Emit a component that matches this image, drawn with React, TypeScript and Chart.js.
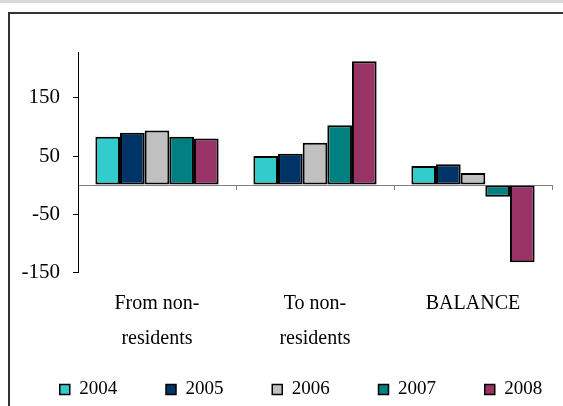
import React, { useEffect, useRef } from "react";
import { Chart, registerables } from "chart.js";

Chart.register(...registerables);

// ---- data ----
const categories: (string | string[])[] = [["From non-", "residents"], ["To non-", "residents"], "BALANCE"];
const years = ["2004", "2005", "2006", "2007", "2008"];
const v2004 = [83, 50, 33];
const v2005 = [90, 54, 36];
const v2006 = [94, 73, 21];
const v2007 = [83, 103, -20];
const v2008 = [80, 213, -133];
const seriesValues = [v2004, v2005, v2006, v2007, v2008];
const seriesColors = ["#33CCCC", "#003366", "#C0C0C0", "#008080", "#993366"];
const yTickValues = [-150, -50, 0, 50, 150];
const yMin = -150;
const yMax = 229;

const FONT = "'Liberation Serif', 'Times New Roman', serif";
const LEGEND_GAP = "        "; // trailing spacing after each legend entry

const boundaryTicks = {
  id: "boundaryTicks",
  afterDatasetsDraw(chart: any) {
    const xs = chart.scales.x;
    const ys = chart.scales.y;
    const ctx = chart.ctx;
    const y0 = ys.getPixelForValue(0);
    const step = xs.getPixelForValue(1) - xs.getPixelForValue(0);
    ctx.save();
    ctx.strokeStyle = "#808080";
    ctx.lineWidth = 1;
    ctx.beginPath();
    for (let i = 0; i < categories.length; i++) {
      const bx = Math.round(xs.getPixelForValue(i) + step / 2) + 0.5;
      ctx.moveTo(bx, y0);
      ctx.lineTo(bx, y0 + 5);
    }
    ctx.stroke();
    ctx.restore();
  },
};

export default function App() {
  const ref = useRef<HTMLCanvasElement>(null);

  useEffect(() => {
    if (!ref.current) return;
    Chart.defaults.font.family = FONT;
    const chart = new Chart(ref.current, {
      type: "bar",
      data: {
        labels: categories,
        datasets: years.map((y, i) => ({
          label: y,
          data: seriesValues[i],
          backgroundColor: seriesColors[i],
          borderColor: "#000000",
          borderWidth: 2,
          borderSkipped: false,
          categoryPercentage: 0.78,
          barPercentage: 1,
        })),
      },
      options: {
        responsive: false,
        animation: false,
        layout: { padding: { top: 52, left: 0, right: 0, bottom: 0 } },
        plugins: {
          tooltip: { enabled: false },
          legend: {
            position: "bottom",
            align: "center",
            labels: {
              boxWidth: 10,
              boxHeight: 10,
              padding: 10.75,
              color: "#000000",
              font: { size: 19, family: FONT },
              generateLabels: (ch: any) => {
                const items = Chart.defaults.plugins.legend.labels.generateLabels(ch);
                return items.map((it: any) => ({ ...it, text: it.text + LEGEND_GAP, lineWidth: 1.5 }));
              },
            },
          },
        },
        scales: {
          x: {
            grid: { display: false, drawTicks: false },
            border: { display: false },
            ticks: {
              color: "#000000",
              font: { size: 20, family: FONT, lineHeight: 1.75 },
              padding: 14,
              maxRotation: 0,
              autoSkip: false,
            },
            afterFit: (s: any) => {
              s.height = 97;
            },
          },
          y: {
            min: yMin,
            max: yMax,
            border: { display: true, color: "#000000", width: 1 },
            grid: {
              drawOnChartArea: true,
              drawTicks: true,
              tickLength: 5,
              color: (c: any) => (c.tick && c.tick.value === 0 ? "#808080" : "rgba(0,0,0,0)"),
              tickColor: (c: any) => (c.tick && c.tick.value === 0 ? "rgba(0,0,0,0)" : "#000000"),
            },
            afterBuildTicks: (axis: any) => {
              axis.ticks = yTickValues.map((v) => ({ value: v }));
            },
            ticks: {
              color: "#000000",
              padding: 13,
              font: { size: 21, family: FONT },
              callback: (v: any) => (Number(v) === 0 ? "" : String(v)),
            },
            afterFit: (s: any) => {
              s.width = 78;
            },
          },
          yR: {
            type: "linear",
            position: "right",
            display: true,
            grid: { display: false, drawTicks: false },
            border: { display: false },
            ticks: { display: false },
            afterFit: (s: any) => {
              s.width = 88;
            },
          },
        },
      } as any,
      plugins: [boundaryTicks],
    });
    return () => chart.destroy();
  }, []);

  return (
    <div
      style={{
        position: "absolute",
        left: 0,
        top: 0,
        width: 563,
        height: 406,
        overflow: "hidden",
        background: "#ffffff",
      }}
    >
      <div style={{ position: "absolute", left: 0, top: 0, width: 563, height: 3, background: "#d9d9d9" }} />
      <div
        style={{
          position: "absolute",
          left: 8,
          top: 12,
          width: 660,
          height: 460,
          border: "2px solid #333333",
          boxSizing: "border-box",
        }}
      />
      <canvas
        ref={ref}
        width={640}
        height={409}
        style={{ position: "absolute", left: 0, top: 0, width: 640, height: 409 }}
      />
    </div>
  );
}
